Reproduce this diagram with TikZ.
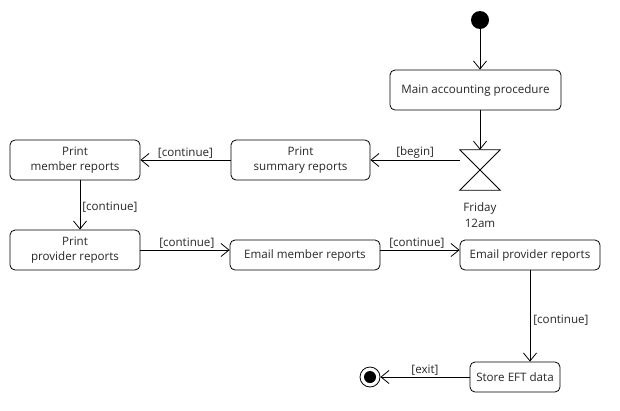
\documentclass[tikz,border=0pt]{standalone}
\usepackage{fontspec}
\setmainfont{Open Sans}
\usetikzlibrary{arrows.meta,calc}
\begin{document}
\begin{tikzpicture}[x=1pt,y=-1pt,
  every node/.style={font=\fontsize{11.6}{15.5}\selectfont, text=black!85},
  act/.style={draw, rounded corners=5pt, line width=0.8pt, align=center, inner sep=0pt},
  arr/.style={draw, line width=0.8pt, -{Straight Barb[length=8pt,width=13pt,line width=0.8pt]}},
  lbl/.style={inner sep=1pt}
]
\useasboundingbox (0,0) rectangle (620,410);
% start
\node (start) [circle, fill=black, minimum size=18pt, inner sep=0pt] at (480,20) {};
\node (main) [act, minimum width=171pt, minimum height=40pt] at (475.5,90) {\raisebox{-1.5pt}{Main accounting procedure}};
% time event (hourglass)
\node (hg) [minimum width=40pt, minimum height=40pt, inner sep=0pt] at (480,170) {};
\draw[line width=0.8pt] (hg.north west) -- (hg.north east) -- (hg.south west) -- (hg.south east) -- cycle;
\node (fri) [align=center] at (480,215) {Friday\\12am};
\node (summary) [act, minimum width=139pt, minimum height=40pt] at (300.5,160) {Print\\summary reports};
\node (member) [act, minimum width=130pt, minimum height=40pt] at (75,160) {Print\\member reports};
\node (provider) [act, minimum width=130pt, minimum height=40pt] at (75,250) {Print\\provider reports};
\node (emember) [act, minimum width=150pt, minimum height=30pt] at (305,255) {\raisebox{-1pt}{Email member reports}};
\node (eprovider) [act, minimum width=140pt, minimum height=30pt] at (530,255) {Email provider reports};
\node (store) [act, minimum width=90pt, minimum height=30pt] at (515,377) {\raisebox{-1pt}{Store EFT data}};
\node (end) [circle, draw, line width=0.8pt, minimum size=20pt, inner sep=0pt] at (370,377) {};
\node (endin) [circle, fill=black, minimum size=12pt, inner sep=0pt] at (end) {};
% connectors
\draw[arr] (start) -- (start |- main.north);
\draw[arr] (main.south -| hg) -- (hg.north);
\draw[arr] (summary.east -| hg.west) -- node[lbl, above, pos=0.5] {[begin]} (summary.east);
\draw[arr] (summary.west) -- node[lbl, above] {[continue]} (member.east);
\draw[arr] (member.south -| 80,0) -- node[lbl, right, xshift=1pt, pos=0.55] {[continue]} (provider.north -| 80,0);
\draw[arr] (provider.east) -- node[lbl, above, pos=0.52] {[continue]} (provider.east -| emember.west);
\draw[arr] (provider.east -| emember.east) -- node[lbl, above, pos=0.46] {[continue]} (provider.east -| eprovider.west);
\draw[arr] (eprovider.south -| 530,0) -- node[lbl, right, xshift=2pt, pos=0.55] {[continue]} (store.north -| 530,0);
\draw[arr] (store.west) -- node[lbl, above] {[exit]} (end.east);
\end{tikzpicture}
\end{document}
